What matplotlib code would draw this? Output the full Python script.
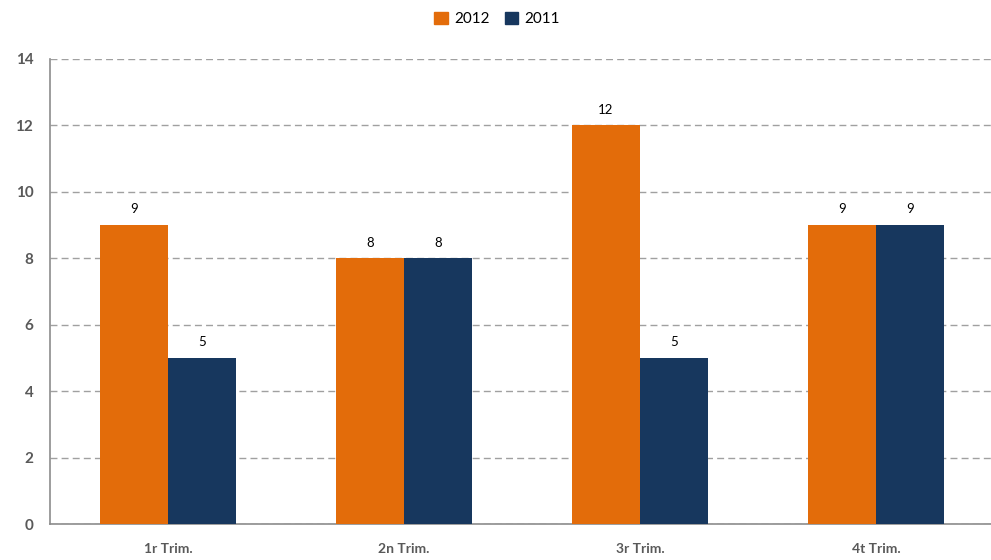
import matplotlib
matplotlib.use("Agg")
import matplotlib.pyplot as plt
import numpy as np
from matplotlib.patches import Patch

categories = ["1r Trim.", "2n Trim.", "3r Trim.", "4t Trim."]
series_names = ["2012", "2011"]
values_2012 = [9, 8, 12, 9]
values_2011 = [5, 8, 5, 9]
yticks = [0, 2, 4, 6, 8, 10, 12, 14]

colors = ["#E36C0A", "#17375E"]
plt.rcParams['font.family'] = ['Lato', 'DejaVu Sans']

W, H = 991, 560
fig = plt.figure(figsize=(W/100, H/100), dpi=100)
ax = fig.add_axes([50/W, 36/H, 944/W, 465/H])

x = np.arange(len(categories))
bw = 0.288
b1 = ax.bar(x - bw/2, values_2012, bw, color=colors[0], zorder=3)
b2 = ax.bar(x + bw/2, values_2011, bw, color=colors[1], zorder=3)
for bars, vals in ((b1, values_2012), (b2, values_2011)):
    for r, v in zip(bars, vals):
        ax.annotate(str(v), (r.get_x() + r.get_width()/2, v), xytext=(0, 7),
                    textcoords="offset points", ha="center", va="bottom",
                    fontsize=9.5, color="#000000")

ax.set_xlim(-0.5, 3.5)
ax.set_ylim(0, 14)
ax.set_yticks(yticks)
ax.set_yticklabels([str(t) for t in yticks], fontsize=11, fontweight="bold", color="#595959")
ax.set_xticks(x)
ax.set_xticklabels(categories, fontsize=10, fontweight="bold", color="#595959")
ax.tick_params(axis="both", length=0)
ax.tick_params(axis="y", pad=12)
ax.tick_params(axis="x", pad=14)
ax.grid(axis="y", color="#A0A0A0", linestyle=(0, (5, 3)), linewidth=1, zorder=0)
for s in ("top", "right"):
    ax.spines[s].set_visible(False)
for s in ("left", "bottom"):
    ax.spines[s].set_color("#8C8C8C")
    ax.spines[s].set_linewidth(1.2)

handles = [Patch(color=c, label=n) for c, n in zip(colors, series_names)]
fig.legend(handles=handles, loc="center", bbox_to_anchor=(497/W, 1 - 19/H), ncol=2,
           frameon=False, fontsize=11, handlelength=0.9, handleheight=0.9,
           columnspacing=1.0, handletextpad=0.4)

fig.savefig("out.png", dpi=100)
